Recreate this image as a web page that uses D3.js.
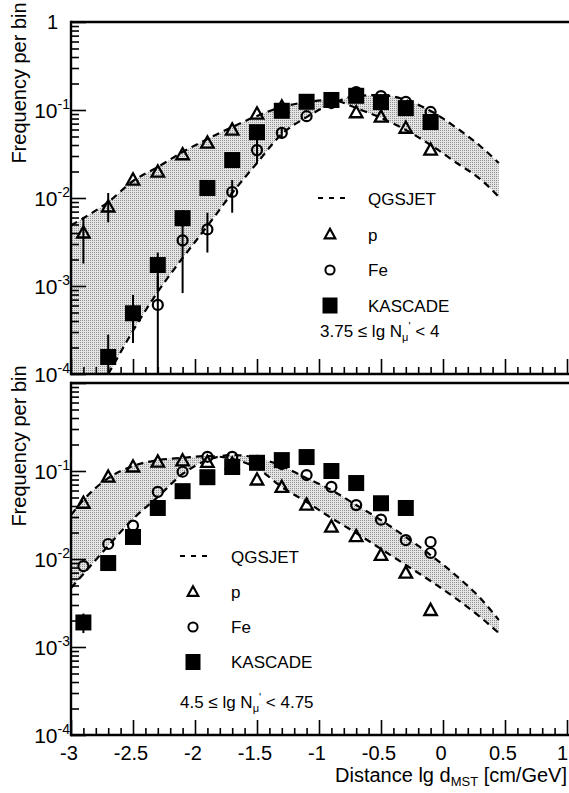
<!DOCTYPE html>
<html>
<head>
<meta charset="utf-8">
<script src="https://cdn.jsdelivr.net/npm/d3@7"></script>
<style>
  html, body { margin: 0; padding: 0; background: #fff; }
  svg { display: block; font-family: "Liberation Sans", Arial, Helvetica, sans-serif; }
</style>
</head>
<body>
<svg id="chart" width="569" height="793"></svg>
<script>
// ---- bin centres in lg d_MST [cm/GeV] ----
const bins = [-2.9, -2.7, -2.5, -2.3, -2.1, -1.9, -1.7, -1.5, -1.3, -1.1, -0.9, -0.7, -0.5, -0.3, -0.1];
const xTickValues = [-3, -2.5, -2, -1.5, -1, -0.5, 0, 0.5, 1];
const xTickLabels = ["-3", "-2.5", "-2", "-1.5", "-1", "-0.5", "0", "0.5", "1"];
const yDecades = [1e-4, 1e-3, 1e-2, 1e-1, 1];
const yDecadeLabels = ["-4", "-3", "-2", "-1", ""];
const legendNames = ["QGSJET", "p", "Fe", "KASCADE"];

// ---- QGSJET band sample points ----
const curveX = [-3.0, -2.9, -2.7, -2.5, -2.3, -2.1, -1.9, -1.7, -1.5, -1.3, -1.1, -0.9, -0.7, -0.5, -0.3, -0.1, 0.1, 0.3, 0.45];

// upper panel: 3.75 <= lg N_mu' < 4
const topCurveP  = [0.0049, 0.0059, 0.0090, 0.0156, 0.0225, 0.0333, 0.0468, 0.0641, 0.0855, 0.108, 0.123, 0.130, 0.105, 0.081, 0.0593, 0.040, 0.0256, 0.0164, 0.0103];
const topCurveFe = [0.00002, 0.000034, 0.0001, 0.00031, 0.00086, 0.00208, 0.0048, 0.0114, 0.025, 0.0533, 0.083, 0.117, 0.144, 0.148, 0.130, 0.0975, 0.064, 0.039, 0.025];
const topP   = [0.0040, 0.0079, 0.016, 0.0197, 0.031, 0.042, 0.059, 0.090, 0.108, 0.120, 0.125, 0.093, 0.083, 0.062, 0.035];
const topPLo = [0.0018, 0.0053, null, null, null, null, null, null, null, null, null, null, null, null, null];
const topPHi = [0.0061, 0.0114, null, null, null, null, null, null, null, null, null, null, null, null, null];
const topFe   = [null, null, null, 0.00061, 0.0033, 0.0044, 0.0117, 0.035, 0.055, 0.085, 0.120, 0.160, 0.144, 0.124, 0.095];
const topFeLo = [null, null, null, 0.00001, 0.00083, 0.0024, 0.0068, 0.025, 0.047, null, null, null, null, null, null];
const topFeHi = [null, null, null, 0.0013, 0.0052, 0.0068, 0.016, 0.046, 0.064, null, null, null, null, null, null];
const topKas   = [null, 0.000156, 0.00049, 0.00173, 0.0059, 0.013, 0.027, 0.056, 0.098, 0.124, 0.130, 0.145, 0.123, 0.105, 0.073];
const topKasLo = [null, 0.00009, 0.000225, 0.0009, 0.0047, 0.011, null, null, null, null, null, null, null, null, null];
const topKasHi = [null, 0.00028, 0.00079, 0.0024, 0.0073, 0.016, null, null, null, null, null, null, null, null, null];

// lower panel: 4.5 <= lg N_mu' < 4.75
const botCurveP  = [0.0316, 0.0468, 0.083, 0.114, 0.133, 0.141, 0.148, 0.137, 0.108, 0.0658, 0.0445, 0.0292, 0.0197, 0.013, 0.00855, 0.00562, 0.0036, 0.00219, 0.00144];
const botCurveFe = [0.00468, 0.00676, 0.0141, 0.0285, 0.0507, 0.0925, 0.133, 0.152, 0.141, 0.114, 0.083, 0.0608, 0.0411, 0.0277, 0.0178, 0.0111, 0.00658, 0.0036, 0.00203];
const botP   = [0.043, 0.085, 0.111, 0.126, 0.130, 0.125, 0.120, 0.079, 0.065, 0.041, 0.023, 0.018, 0.011, 0.0069, 0.0026];
const botFeX = [-2.9, -2.7, -2.5, -2.3, -2.1, -1.9, -1.7, -1.5, -1.3, -1.1, -0.9, -0.7, -0.5, -0.3, -0.1, -0.1];
const botFe  = [0.0083, 0.0148, 0.024, 0.058, 0.098, 0.145, 0.145, 0.130, 0.120, 0.090, 0.066, 0.041, 0.028, 0.0164, 0.0156, 0.0117];
const botKas   = [0.0019, 0.009, 0.0178, 0.038, 0.059, 0.085, 0.111, 0.124, 0.133, 0.144, 0.100, 0.073, 0.043, 0.038, null];
const botKasLo = [0.00144, null, null, null, null, null, null, null, null, null, null, null, null, null, null];
const botKasHi = [0.0024, null, null, null, null, null, null, null, null, null, null, null, null, null, null];

// ---- layout ----
const svg = d3.select("#chart");
const x = d3.scaleLinear().domain([-3, 1]).range([71, 567]);
const xLeft = 71, xRight = 569;

const defs = svg.append("defs");
// stippled grey used for the QGSJET band
const pat = defs.append("pattern").attr("id", "stipple")
  .attr("width", 2).attr("height", 2).attr("patternUnits", "userSpaceOnUse");
pat.append("rect").attr("width", 2).attr("height", 2).attr("fill", "#e4e4e4");
pat.append("rect").attr("width", 1).attr("height", 1).attr("fill", "#929292");

const panels = [
  { id: "top", y0: 374, y1: 22, curveP: topCurveP, curveFe: topCurveFe,
    pX: bins, p: topP, pLo: topPLo, pHi: topPHi,
    feX: bins, fe: topFe, feLo: topFeLo, feHi: topFeHi,
    kas: topKas, kasLo: topKasLo, kasHi: topKasHi,
    showOne: true, xLabels: false,
    legend: { dashX: 318, markX: 330, textX: 368, base: 205, step: 35.5 },
    cut: ["3.75", "4"], cutX: 320, cutY: 337, yTitle: 83 },
  { id: "bot", y0: 735, y1: 383, curveP: botCurveP, curveFe: botCurveFe,
    pX: bins, p: botP, pLo: null, pHi: null,
    feX: botFeX, fe: botFe, feLo: null, feHi: null,
    kas: botKas, kasLo: botKasLo, kasHi: botKasHi,
    showOne: false, xLabels: true,
    legend: { dashX: 180, markX: 193, textX: 231, base: 563, step: 35 },
    cut: ["4.5", "4.75"], cutX: 180, cutY: 708, yTitle: 446 }
];

function triPath(cx, cy, w) {
  const h = w * 0.9;
  return `M${cx},${cy - h * 0.6}L${cx + w / 2},${cy + h * 0.4}L${cx - w / 2},${cy + h * 0.4}Z`;
}

panels.forEach(P => {
  const y = d3.scaleLog().domain([1e-4, 1]).range([P.y0, P.y1]);
  const g = svg.append("g").attr("class", "panel-" + P.id);

  defs.append("clipPath").attr("id", "clip-" + P.id)
    .append("rect").attr("x", xLeft).attr("y", P.y1).attr("width", xRight - xLeft).attr("height", P.y0 - P.y1);

  const plot = g.append("g").attr("clip-path", `url(#clip-${P.id})`);

  // QGSJET band between proton and iron predictions
  const band = d3.area()
    .x((d, i) => x(curveX[i]))
    .y0((d, i) => y(P.curveP[i]))
    .y1((d, i) => y(P.curveFe[i]))
    .curve(d3.curveMonotoneX);
  plot.append("path").datum(curveX).attr("d", band).attr("fill", "url(#stipple)");

  const line = arr => d3.line()
    .x((d, i) => x(curveX[i]))
    .y((d, i) => y(arr[i]))
    .curve(d3.curveMonotoneX)(curveX);
  [P.curveP, P.curveFe].forEach(arr => {
    plot.append("path").attr("d", line(arr)).attr("fill", "none")
      .attr("stroke", "#000").attr("stroke-width", 2.2).attr("stroke-dasharray", "7,5");
  });

  // error bars
  const errs = [];
  const addErr = (xs, lo, hi) => {
    if (!lo) return;
    xs.forEach((xv, i) => { if (lo[i] != null && hi[i] != null) errs.push([xv, lo[i], hi[i]]); });
  };
  addErr(P.pX, P.pLo, P.pHi);
  addErr(P.feX, P.feLo, P.feHi);
  addErr(bins, P.kasLo, P.kasHi);
  plot.selectAll(".err").data(errs).join("line")
    .attr("x1", d => x(d[0])).attr("x2", d => x(d[0]))
    .attr("y1", d => y(d[1])).attr("y2", d => y(d[2]))
    .attr("stroke", "#000").attr("stroke-width", 2);

  // proton (triangles)
  const pPts = P.pX.map((xv, i) => [xv, P.p[i]]).filter(d => d[1] != null);
  plot.selectAll(".tri").data(pPts).join("path")
    .attr("d", d => triPath(x(d[0]), y(d[1]), 12.5))
    .attr("fill", "none").attr("stroke", "#000").attr("stroke-width", 2.3).attr("stroke-linejoin", "miter");

  // iron (circles)
  const fePts = P.feX.map((xv, i) => [xv, P.fe[i]]).filter(d => d[1] != null);
  plot.selectAll(".circ").data(fePts).join("circle")
    .attr("cx", d => x(d[0])).attr("cy", d => y(d[1])).attr("r", 5)
    .attr("fill", "none").attr("stroke", "#000").attr("stroke-width", 2.2);

  // KASCADE data (filled squares)
  const kPts = bins.map((xv, i) => [xv, P.kas[i]]).filter(d => d[1] != null);
  plot.selectAll(".sq").data(kPts).join("rect")
    .attr("x", d => x(d[0]) - 8).attr("y", d => y(d[1]) - 8)
    .attr("width", 16).attr("height", 16).attr("fill", "#000");

  // axes: ticks point into the frame
  const majorY = yDecades;
  const minorY = y.ticks().filter(v => !majorY.some(m => Math.abs(m - v) / v < 1e-6));
  const yMinor = g.append("g").attr("transform", `translate(${xLeft},0)`)
    .call(d3.axisRight(y).tickValues(minorY).tickSize(8).tickFormat(""));
  const yMajor = g.append("g").attr("transform", `translate(${xLeft},0)`)
    .call(d3.axisRight(y).tickValues(majorY).tickSize(15).tickFormat(""));
  const xMinorVals = d3.range(-30, 11).map(v => v / 10).filter(v => Math.abs(v * 2 - Math.round(v * 2)) > 1e-6);
  const xMinor = g.append("g").attr("transform", `translate(0,${P.y0})`)
    .call(d3.axisTop(x).tickValues(xMinorVals).tickSize(7).tickFormat(""));
  const xMajor = g.append("g").attr("transform", `translate(0,${P.y0})`)
    .call(d3.axisTop(x).tickValues(xTickValues).tickSize(15).tickFormat(""));
  [yMinor, yMajor, xMinor, xMajor].forEach(a => {
    a.select(".domain").remove();
    a.selectAll("line").attr("stroke", "#000").attr("stroke-width", 1.6);
  });

  // frame
  g.append("line").attr("x1", xLeft).attr("x2", xRight).attr("y1", P.y1).attr("y2", P.y1)
    .attr("stroke", "#000").attr("stroke-width", 2.4);
  g.append("line").attr("x1", xLeft).attr("x2", xRight).attr("y1", P.y0).attr("y2", P.y0)
    .attr("stroke", "#000").attr("stroke-width", 2.4);
  g.append("line").attr("x1", xLeft).attr("x2", xLeft).attr("y1", P.y1 - 1.2).attr("y2", P.y0 + 1.2)
    .attr("stroke", "#000").attr("stroke-width", 2.4);

  // y tick labels 10^n
  yDecades.forEach((v, i) => {
    if (v === 1) {
      if (!P.showOne) return;
      g.append("text").attr("x", 58).attr("y", y(v) + 7).attr("text-anchor", "end")
        .attr("font-size", 20).text("1");
      return;
    }
    const t = g.append("text").attr("x", 70).attr("y", y(v) + 8).attr("text-anchor", "end")
      .attr("font-size", 21);
    t.append("tspan").text("10");
    t.append("tspan").attr("dy", -9).attr("font-size", 14).text(yDecadeLabels[i]);
  });

  // y title
  g.append("text").attr("transform", `translate(26,${P.yTitle}) rotate(-90)`)
    .attr("text-anchor", "middle").attr("font-size", 20).text("Frequency per bin");

  // x tick labels (the last one is kept inside the page edge)
  if (P.xLabels) {
    xTickValues.forEach((v, i) => {
      const last = i === xTickValues.length - 1;
      g.append("text").attr("x", last ? 568 : x(v) - 2).attr("y", 760)
        .attr("text-anchor", last ? "end" : "middle")
        .attr("font-size", 20).text(xTickLabels[i]);
    });
    const tt = g.append("text").attr("x", 567).attr("y", 782).attr("text-anchor", "end").attr("font-size", 20);
    tt.append("tspan").text("Distance lg d");
    tt.append("tspan").attr("dy", 4).attr("font-size", 13).text("MST");
    tt.append("tspan").attr("dy", -4).text(" [cm/GeV]");
  }

  // legend
  const L = P.legend;
  g.append("line").attr("x1", L.dashX).attr("x2", L.dashX + 27)
    .attr("y1", L.base - 7).attr("y2", L.base - 7)
    .attr("stroke", "#000").attr("stroke-width", 2).attr("stroke-dasharray", "5,6");
  g.append("path").attr("d", triPath(L.markX, L.base + L.step - 6, 10.5))
    .attr("fill", "none").attr("stroke", "#000").attr("stroke-width", 2.2);
  g.append("circle").attr("cx", L.markX).attr("cy", L.base + 2 * L.step - 6).attr("r", 4.6)
    .attr("fill", "none").attr("stroke", "#000").attr("stroke-width", 2);
  g.append("rect").attr("x", L.markX - 7.5).attr("y", L.base + 3 * L.step - 14)
    .attr("width", 15).attr("height", 16).attr("fill", "#000");
  legendNames.forEach((n, i) => {
    g.append("text").attr("x", L.textX).attr("y", L.base + i * L.step)
      .attr("font-size", 17).text(n);
  });

  // muon-number cut
  const ct = g.append("text").attr("x", P.cutX).attr("y", P.cutY).attr("font-size", 17);
  ct.append("tspan").text(P.cut[0] + " \u2264 lg N");
  ct.append("tspan").attr("dy", 4).attr("font-size", 11).text("\u03bc");
  ct.append("tspan").attr("dy", -11).attr("font-size", 11).text("'");
  ct.append("tspan").attr("dy", 7).text(" < " + P.cut[1]);
});
</script>
</body>
</html>
